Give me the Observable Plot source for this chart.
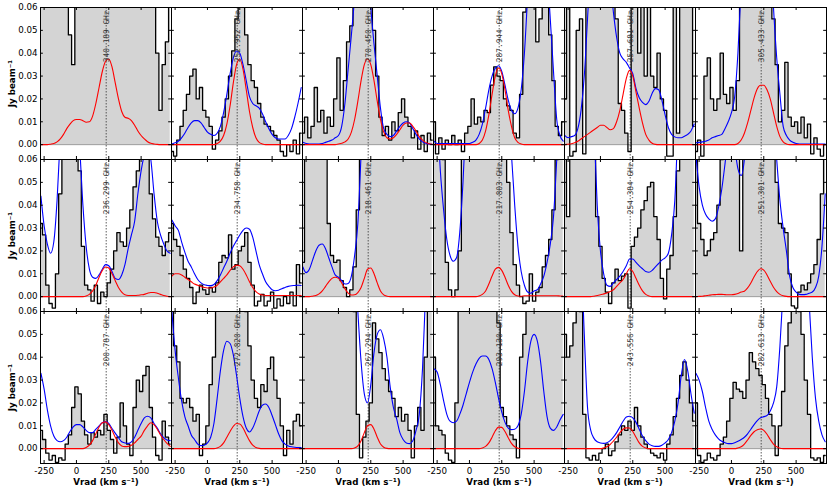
<!DOCTYPE html>
<html>
<head>
<meta charset="utf-8">
<script src="https://cdn.jsdelivr.net/npm/d3@7"></script>
<script src="https://cdn.jsdelivr.net/npm/@observablehq/plot@0.6"></script>
<style>
  html, body { margin: 0; padding: 0; background: #fff; }
  #chart svg { display: block; }
</style>
</head>
<body>
<div id="chart"></div>
<script>
// ---------------- data (flux densities in mJy/beam) ----------------
const velocity = [-275,-250,-225,-200,-175,-150,-125,-100,-75,-50,-25,0,25,50,75,100,125,150,175,200,225,250,275,300,325,350,375,400,425,450,475,500,525,550,575,600,625,650,675,700,725];
const vsys = 230;
const xTickValues = [-250, 0, 250, 500];
const yTickValues = [0, 10, 20, 30, 40, 50, 60];
const freqLabels = ["340.189 GHz","252.952 GHz","270.450 GHz","287.944 GHz","257.681 GHz","305.433 GHz",
                    "236.299 GHz","234.758 GHz","218.461 GHz","217.803 GHz","254.384 GHz","251.301 GHz",
                    "200.787 GHz","272.820 GHz","267.294 GHz","293.130 GHz","243.556 GHz","282.613 GHz"];

// row 0
const obs00 = [70,70,70,70,70,70,70,70,70,48,35,70,70,70,70,70,70,70,70,70,70,70,70,70,70,70,70,70,70,70,70,70,70,70,70,70,40,15,35,45,70];
const fit00 = null;
const line00 = [0,0,0,0.2,0.5,1.2,2.5,4.5,7,9,10.5,11,11,10.5,9.8,10,12.5,18,25,32,36.5,37.5,34,27,20,14.5,12,11.5,10.5,8.5,6,4,2.5,1.3,0.6,0.3,0.1,0,0,0,0];

const obs01 = [-3,-5,2,8,15,22,30,33,20,25,15,12,8,-2,2,6,12,20,30,41,55,70,70,48,35,28,25,18,12,9,8,6,4,2,-3,-5,0,-3,2,-4,5];
const fit01 = [0.3,0.8,1.5,3,5,7.5,9.5,10.5,10.5,9.5,7.5,5.5,4.5,4,5,8,14,22,31,38,41,40,35,28,21,18,17,16,13.5,10,7,4.5,3,2.5,2.5,2.5,4,7,12,18,25];
const line01 = [0,0,0,0,0,0,0,0,0,0,0,0,0,0,0.5,1.5,4,9,17,27,35,37.5,33,24,14.5,7.5,3,1,0.3,0,0,0,0,0,0,0,0,0,0,0,0];

const obs02 = [5,12,3,8,25,10,15,5,12,8,20,38,15,28,45,52,70,70,70,70,70,70,50,30,12,4,8,2,10,6,14,20,12,8,3,6,-2,4,-3,5,2];
const fit02 = [1,0.5,0.3,0.3,0.3,0.3,0.5,1,1.5,2,3,4,8,18,33,48,65,90,95,90,80,60,44,30,16,7,4.5,3.5,4,6,8,9.5,10,9.5,7,4.5,2.5,1.2,0.6,0.3,0.2];
const line02 = [0,0,0,0,0,0,0,0,0,0,0,0.3,0.6,1.2,2.5,5.5,11,19,28,35,37.5,35,28,19,11,5.5,3,2.5,3,4.5,6.5,8.5,9.5,9.5,8,6,3.5,2,1,0.4,0.1];

const obs03 = [10,-4,3,-2,2,0,4,0,2,-3,5,8,20,9,12,10,15,14,26,34,30,28,20,17,15,5,3,22,58,70,70,70,45,55,70,70,48,28,8,4,10];
const fit03 = [1.5,0.5,0.5,0.5,0.5,0.5,0.5,0.5,0.5,0.5,0.5,0.5,1,2,4.5,9,16,24,30,33.5,34.5,32,26,19.5,15,13.5,16,24,40,65,90,95,95,90,80,75,55,32,11,4,1.5];
const line03 = [0,0,0,0,0,0,0,0,0,0,0,0,0,0,0.5,2,6,13,22,30,33.5,31,24,15,8,3,1,0.3,0,0,0,0,0,0,0,0,0,0,0,0,0];

const obs04 = [20,70,-5,-3,50,55,-4,70,70,70,70,70,70,70,70,70,55,18,15,5,-3,70,70,40,70,30,65,30,25,40,20,15,-5,-5,70,5,70,70,70,70,8];
const fit04 = [4,3,3.5,4,7,15,30,55,80,95,100,100,95,85,72,58,47,40,37.5,36,33.5,31,24.5,20.5,18.5,17.5,19,22.5,24.5,24,19.5,13,7.5,4.5,3.4,3,3,3.7,4.5,6,9];
const line04 = [0,0.2,0.4,0.8,1.5,2.5,3.5,4.5,5.5,6.5,7.5,8.5,8.5,7.5,6.5,7,10,15,22,29,32.5,30,23,16,9.5,4.5,2,0.6,0.1,0,0,0,0,0,0,0,0,0,0,0,0];

const obs05 = [-3,2,-5,30,38,20,15,20,40,22,18,25,15,28,65,70,70,70,70,70,70,70,70,70,55,35,10,15,36,12,8,10,5,12,3,9,-4,3,-2,-5,0];
const fit05 = [0.8,1,1.2,1.5,2,3,3.5,4,4.5,7,10,14,21,40,70,100,100,100,100,100,100,100,100,90,60,38,22,8,4,2,1,0.5,0.3,0.3,0.3,0.3,0.3,0.3,0.3,0.3,0.3];
const line05 = [0,0,0,0,0,0,0,0,0,0,0,0,0,0.5,2,5,9.5,15,20.5,24.5,26,26,24,20,14,8,3.5,1.2,0.3,0,0,0,0,0,0,0,0,0,0,0,0];

// row 1
const obs10 = [32,27,5,-3,-5,10,45,70,70,70,70,70,55,22,5,3,-2,5,-3,2,0,6,12,20,28,24,22,30,38,48,55,70,70,70,45,34,26,22,18,24,28];
const fit10 = [44,31,23,19,24,42,70,90,100,100,95,80,65,40,22,12,8.5,8,9.5,12,14,13.5,11,8,7.5,9.5,14,21,27,33,45,55,62,65,60,45,33,27,23,20,19];
const line10 = [0,0,0,0,0,0,0,0,0,0,0,0,0,0,0.3,1,2.5,5,8.5,11.5,13,12.5,10,7,4,2,0.8,0.5,0.5,0.5,0.6,0.8,1,1.5,1.8,1.8,1.5,1,0.5,0.2,0];

const obs11 = [32,25,22,18,12,8,4,-3,2,5,3,1,4,2,6,15,18,17,27,12,14,20,22,28,15,5,-4,-2,1,-4,-2,2,-5,-1,-4,0,-3,2,-4,14,6];
const fit11 = [33.5,31,29,24,19.5,15.5,13,10,7.5,6,5.2,4.9,4.8,5.3,7,9.5,12.5,15.5,19,22,24.5,27,29,30,29.5,26,20,14,10,6.5,4.5,3,2.6,2.8,3.5,4,4.5,4.8,4.9,5,4.9];
const line11 = [9,10,10,9.5,8.5,7.5,6.5,5.5,5,4.5,4,3.8,3.8,4.2,5,6.5,8,9.5,11.5,13,13.8,13.5,12,9.5,6.5,4,2.2,1.2,0.7,0.5,0.5,0.5,0.5,0.5,0.5,0.5,0.5,0.5,0.5,0.5,0.5];

const obs12 = [15,70,70,70,70,70,70,70,32,18,15,16,7,4,0,3,13,38,65,70,70,70,70,70,70,70,70,70,70,70,70,70,70,70,70,70,70,70,70,70,65];
const fit12 = [13,10.5,12,16,20,22.5,23,21,17,13,9.5,8.5,7,5.5,5.8,9,18,32,62,90,100,100,100,100,100,100,100,100,100,100,100,100,100,100,100,100,100,100,100,100,100];
const line12 = [0,0,0,0.2,0.5,1.2,2.5,4.5,6.5,8,8.5,8,6,3.5,1.5,0.7,0.8,1.8,4,8,12,12.5,10,6,2.5,0.8,0.2,0,0,0,0,0,0,0,0,0,0,0,0,0,0];

const obs13 = [70,70,70,60,15,3,0,3,20,65,70,70,70,70,70,70,70,70,70,70,70,70,70,50,28,14,5,0,-3,-2,10,-2,2,4,13,18,25,38,60,70,70];
const fit13 = [100,80,55,38,25,18,15.5,17,28,50,80,100,100,100,100,100,100,100,100,100,100,100,90,80,62,40,22,11,5,2,1.5,2.5,3,5.5,9,15,23,35,60,90,100];
const line13 = [0,0,0,0,0,0,0,0,0,0,0,0,0,0,0.3,1,2.5,5.5,9,12,12.8,11.5,8.5,5,2.3,0.8,0.3,0.2,0.4,0.4,0.4,0.4,0.4,0.4,0.4,0.4,0.4,0.4,0.4,0.3,0.2];

const obs14 = [70,35,70,70,70,70,70,70,70,65,35,22,8,2,-3,6,12,7,9,10,-5,22,26,30,38,42,48,50,35,25,8,-1,12,18,35,55,70,70,70,70,70];
const fit14 = [100,100,100,100,100,100,100,100,100,75,40,20,10,5,4.5,6,7.5,9,11,13.5,16.5,16.5,15,13.5,12.2,11,10.7,11.5,13,14.5,16,17,19,27,42,75,100,100,100,100,100];
const line14 = [0,0,0,0,0,0,0,0,0,0.2,0.5,0.8,1.2,1.6,2.2,3,4.5,6,7.5,10,12.2,11,8,5,2.5,1,0.3,0,0,0,0,0,0,0,0,0,0,0,0,0,0];

const obs15 = [60,32,25,18,20,25,28,40,60,70,70,70,70,70,20,70,70,70,70,70,70,70,70,70,70,50,32,30,28,10,-4,-5,2,5,3,6,10,14,25,45,70];
const fit15 = [62,48,40,36,34,33,34,39,47,58,70,72,65,56,53,60,80,95,100,100,100,100,100,100,80,60,42,30,20,9,4,2,1,0.9,1,1.5,2,4,9,22,45];
const line15 = [0,0.1,0.2,0.4,0.6,0.8,0.9,1,1,0.9,0.8,0.8,1,1.4,2,2.4,3.8,6,8.7,11,12.2,11.6,9.5,6.7,4.1,2.2,1,0.4,0.1,0,0,0,0,0,0,0,0,0,0,0,0];

// row 2
const obs20 = [8,4,-2,-5,-3,-6,-4,-5,2,6,18,27,24,12,6,2,7,5,8,6,15,8,4,-2,5,20,10,2,-3,18,30,25,32,36,18,5,-3,-5,12,5,2];
const fit20 = [33,26,17,10,5.5,3.5,3,3.5,5,7.5,9.5,10.5,10.5,9.5,8,7,7,8.5,10,11.3,11.8,11,8.8,6.8,4.8,3,2.5,2.3,3,5,8,11,13.5,14.2,13.5,11,9,6.5,4.8,3.8,3.5];
const line20 = [0,0,0,0,0,0,0,0,0,0,0,0,0,0,0.5,1.5,3.5,6.5,9.5,11.3,11.7,10.5,8,5,2.5,1.2,0.9,1,1.5,2.5,4,5.5,8,10,11.3,10.5,8.5,6,4,2.3,1];

const obs21 = [70,45,38,22,20,22,18,12,15,-3,2,10,28,40,70,70,70,70,70,70,70,70,70,60,45,30,22,18,28,25,35,40,30,22,10,-3,8,2,12,15,10];
const fit21 = [60,43,31,21,14,10,6,4,2,1.3,1.5,2.5,5,11,22,34,43,47,46,41,32,22,14,9,7.3,9,12.5,16.5,19,19.5,18,14.5,10.5,6.5,3.5,2,1.2,0.8,0.6,0.5,0.5];
const line21 = [0,0,0,0,0,0,0,0,0,0,0,0,0,0,0.3,1,2.5,5,7.5,9.8,11,10.8,9,6.2,3.5,1.5,0.5,0.1,0,0,0,0,0,0,0,0,0,0,0,0,0];

const obs22 = [70,70,70,70,70,70,70,70,70,70,70,70,70,70,70,70,60,15,-4,5,12,20,55,48,42,35,30,25,22,14,18,12,15,8,-4,10,18,8,40,70,70];
const fit22 = [100,100,100,100,100,100,100,100,100,100,100,100,100,100,100,100,85,60,38,24,20,28,42,50,52,48,40,27,18,13,7,4,2.5,2.2,3.5,8,15,35,70,100,100];
const line22 = [0,0,0,0,0,0,0,0,0,0,0,0,0,0,0,0,0.3,1.2,3.5,7,10,10.5,8.5,5,2,0.6,0.1,0,0,0,0,0,0,0,0,0,0,0,0,0,0];

const obs23 = [40,10,8,6,-2,-5,-6,20,70,70,70,70,70,70,70,70,70,70,70,70,55,18,14,10,6,4,-4,40,50,70,70,70,70,70,70,70,70,70,70,70,70];
const fit23 = [35,33.5,28,21,15,12,11.3,12,15,19,24,29,33.5,37,39.5,40.5,40.5,39,35,29,22,16,11.5,9,8.3,8.5,10,15,25,38,47,50,47,38,25,14,9,8,9.5,12.5,15];
const line23 = [0,0,0,0,0,0,0,0,0,0,0,0,0,0,0,0.3,1,2.5,5,7.8,9.4,9.3,7.5,4.8,2.3,0.8,0.2,0,0,0,0,0,0,0,0,0,0,0,0,0,0];

const obs24 = [50,40,45,55,70,60,15,-4,-5,-3,-5,-2,0,2,-3,-1,3,6,10,8,12,8,18,10,5,2,0,-2,-3,-4,-2,-5,2,6,14,22,32,38,30,20,12];
const fit24 = [100,100,100,100,100,85,50,18,8,4.5,3,2.5,2.3,2.6,3.5,5,7,9.5,12,13.8,14.2,13.5,11.5,8.5,5.5,3.5,2,1.3,1,1,1.5,2.5,4,7,12,20,32,39,34,24,15.5];
const line24 = [0,0,0,0,0,0,0,0,0,0,0,0,0.3,0.8,1.8,3.3,5,7,8.5,9.1,9,7.5,5,2.5,1,0.3,0,0,0,0,0,0,0,0,0,0,0,0,0,0,0];

const obs25 = [20,-3,-6,-5,-2,-4,-5,-3,2,5,12,22,29,26,25,22,30,42,38,35,32,28,22,15,10,-3,10,25,45,55,70,70,60,50,30,15,-4,-5,-4,-6,-3];
const fit25 = [33,30,25,18,12,8.5,6,4.3,3.2,2.6,2.2,2.2,2.6,3.2,4,5,6.5,8.5,10.5,12.3,13.5,14,14.5,16.5,20,27,45,70,90,100,100,100,100,100,90,65,40,22,12,6,3];
const line25 = [0,0,0,0,0,0,0,0,0,0,0,0,0,0.3,0.8,2,3.8,5.8,7.4,8.3,8.6,8,6.3,4,2,0.8,0.2,0,0,0,0,0,0,0,0,0,0,0,0,0,0];

// ---------------- assemble tidy table ----------------
const panels = [
  [obs00, fit00, line00], [obs01, fit01, line01], [obs02, fit02, line02],
  [obs03, fit03, line03], [obs04, fit04, line04], [obs05, fit05, line05],
  [obs10, fit10, line10], [obs11, fit11, line11], [obs12, fit12, line12],
  [obs13, fit13, line13], [obs14, fit14, line14], [obs15, fit15, line15],
  [obs20, fit20, line20], [obs21, fit21, line21], [obs22, fit22, line22],
  [obs23, fit23, line23], [obs24, fit24, line24], [obs25, fit25, line25]
];
const rows = [];
const labelRows = [];
panels.forEach(([o, f, l], p) => {
  const row = Math.floor(p / 6), col = p % 6;
  [o, f, l].forEach((arr, k) => {
    if (arr && arr.length !== velocity.length) throw new Error(`panel ${p} series ${k} has ${arr.length} values`);
  });
  velocity.forEach((v, i) => rows.push({row, col, v, s: o[i], b: f ? f[i] : null, r: l[i]}));
  labelRows.push({row, col, label: freqLabels[p]});
});
const yLabelRows = [0, 1, 2].map(row => ({row, col: 0, t: "Jy beam\u207B\u00B9"}));
const xLabelRows = [0, 1, 2, 3, 4, 5].map(col => ({row: 2, col, t: "Vrad (km s\u207B\u00B9)"}));

// ---------------- layout ----------------
const W = 831, H = 492, mL = 38, mR = 3, mT = 6.5, mB = 28;
const fw = (W - mL - mR) / 6, fh = (H - mT - mB) / 3;
const tk = 3.5;

const chart = Plot.plot({
  width: W, height: H,
  marginLeft: mL, marginRight: mR, marginTop: mT, marginBottom: mB,
  style: {fontFamily: "DejaVu Sans", fontSize: "8.7px", background: "white", color: "black", overflow: "visible"},
  fx: {domain: [0, 1, 2, 3, 4, 5], padding: 0, axis: null},
  fy: {domain: [0, 1, 2], padding: 0, axis: null},
  x: {domain: [-278, 735], ticks: xTickValues, tickSize: 0, tickPadding: 4, tickFormat: d => String(d), label: null},
  y: {domain: [-6.5, 60], ticks: yTickValues, tickSize: 0, tickPadding: 3, tickFormat: d => (d / 1000).toFixed(2), label: null},
  marks: [
    Plot.area(rows, {fx: "col", fy: "row", x1: "v", y1: 0, y2: d => Math.max(0, d.s), curve: "step", fill: "#d4d4d4", clip: true}),
    Plot.ruleY([0], {stroke: "#999", strokeWidth: 1}),
    Plot.ruleX([vsys], {stroke: "#333", strokeWidth: 0.8, strokeDasharray: "1.5,1.5"}),
    Plot.line(rows, {fx: "col", fy: "row", x: "v", y: "s", curve: "step", stroke: "black", strokeWidth: 1.3, clip: true}),
    Plot.line(rows.filter(d => d.b != null), {fx: "col", fy: "row", x: "v", y: "b", curve: "monotone-x", stroke: "#0000ff", strokeWidth: 1.1, clip: true}),
    Plot.line(rows, {fx: "col", fy: "row", x: "v", y: "r", curve: "monotone-x", stroke: "#ff0000", strokeWidth: 1.1, clip: true}),
    Plot.frame({stroke: "black", strokeWidth: 1}),
    Plot.tickX(xTickValues, {x: d => d, insetTop: fh - tk, stroke: "black"}),
    Plot.tickX(xTickValues, {x: d => d, insetBottom: fh - tk, stroke: "black"}),
    Plot.tickY(yTickValues, {y: d => d, insetRight: fw - tk, stroke: "black"}),
    Plot.tickY(yTickValues, {y: d => d, insetLeft: fw - tk, stroke: "black"}),
    Plot.text(labelRows, {fx: "col", fy: "row", x: vsys, y: 60, text: "label", rotate: -90, textAnchor: "end", dy: 3,
      fontFamily: "DejaVu Sans Mono", fontSize: 7.8, fill: "#333"}),
    Plot.text(yLabelRows, {fx: "col", fy: "row", text: "t", frameAnchor: "left", dx: -28.5, rotate: -90,
      textAnchor: "middle", fontWeight: "bold", fontSize: 8.7}),
    Plot.text(xLabelRows, {fx: "col", fy: "row", text: "t", frameAnchor: "bottom", dy: 19, lineAnchor: "middle",
      fontWeight: "bold", fontSize: 8.7})
  ]
});
document.getElementById("chart").appendChild(chart);
</script>
</body>
</html>
